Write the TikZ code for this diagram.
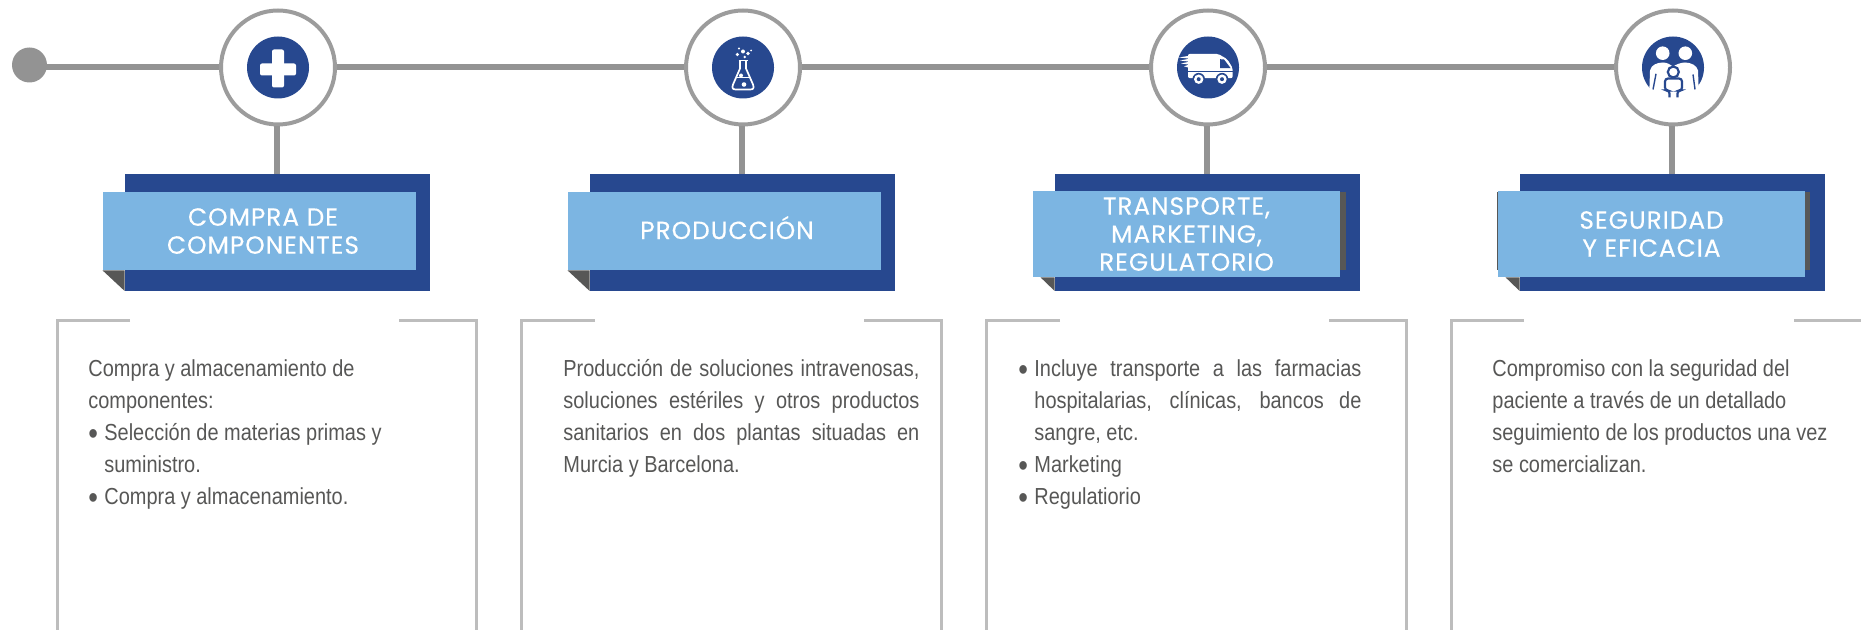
\documentclass[tikz,border=0pt]{standalone}
\usepackage{fontspec}
\usepackage{tikz}
\usetikzlibrary{positioning}
\setmainfont[FakeStretch=0.86]{Liberation Sans}
\newfontfamily\titlefont[LetterSpace=4,FakeBold=0.25]{Poppins}
\definecolor{railgray}{HTML}{939393}
\definecolor{ringgray}{HTML}{9C9C9C}
\definecolor{panelgray}{HTML}{BDBDBD}
\definecolor{foldgray}{HTML}{575756}
\definecolor{bandblue}{HTML}{27488F}
\definecolor{bandlight}{HTML}{7CB5E2}
\newcommand{\bul}{\makebox[8pt][l]{\raisebox{-2pt}{\fontsize{16}{16}\selectfont\textbullet}}}
\newcommand{\jline}[2]{\makebox[#1][s]{#2}}

\begin{document}
\begin{tikzpicture}[x=0.5pt, y=-0.5pt, node distance=232.5pt, on grid,
    startdot/.style={circle, fill=railgray, minimum size=17.5pt, inner sep=0pt},
    stepring/.style={circle, draw=ringgray, line width=2pt, fill=white, minimum size=57pt, inner sep=0pt},
    stepdisc/.style={circle, fill=bandblue, minimum size=31pt, inner sep=0pt},
    bandback/.style={fill=bandblue, minimum width=152.5pt, minimum height=58.25pt, inner sep=0pt, xshift=-0.25pt},
    bandfront/.style={fill=bandlight, anchor=north west, inner sep=0pt, align=center, text=white,
      font=\titlefont\fontsize{12.4}{14}\selectfont},
    rail/.style={draw=railgray, line width=3pt},
    panel/.style={draw=panelgray, line width=1.5pt},
    bodytext/.style={anchor=north west, inner sep=0pt, align=left, text=foldgray,
      font=\fontsize{11.6}{16}\selectfont},
    fold/.style={fill=foldgray},
    icon/.style={fill=white},
    iconline/.style={draw=white, line width=0.85pt}]
    \useasboundingbox (0,0) rectangle (1861,630);

    \node[startdot] (start) at (29.5,65) {};
    \node[stepring] (step1) at (278,67.5) {};
    \node[stepring, right=of step1] (step2) {};
    \node[stepring, right=of step2] (step3) {};
    \node[stepring, right=of step3] (step4) {};
    \node[stepdisc] (disc1) at (step1) {};
    \node[stepdisc] (disc2) at (step2) {};
    \node[stepdisc] (disc3) at (step3) {};
    \node[stepdisc] (disc4) at (step4) {};

    \draw[rail] (step1 -| start) -- (step1);
    \draw[rail] (step1) -- (step2);
    \draw[rail] (step2) -- (step3);
    \draw[rail] (step3) -- (step4);

    \node[bandback, below=82.4pt of step1] (back1) {};
    \node[bandback, below=82.4pt of step2] (back2) {};
    \node[bandback, below=82.4pt of step3] (back3) {};
    \node[bandback, below=82.4pt of step4] (back4) {};
    \draw[rail] ([xshift=-0.75pt]step1.south) -- ([xshift=-0.75pt]step1.south |- back1.north);
    \draw[rail] ([xshift=-0.5pt]step2.south) -- ([xshift=-0.5pt]step2.south |- back2.north);
    \draw[rail] ([xshift=-0.5pt]step3.south) -- ([xshift=-0.5pt]step3.south |- back3.north);
    \draw[rail] ([xshift=-0.5pt]step4.south) -- ([xshift=-0.5pt]step4.south |- back4.north);

    \fill[fold] ([shift={(-14,18)}]back3.north east) rectangle ++(-6,78);
    \fill[fold] ([shift={(-15,18)}]back4.north east) rectangle ++(-6,78);
    \fill[fold] ([shift={(-23,18)}]back4.north west) rectangle ++(1.5,78);

    \node[bandfront, minimum width=156.5pt, minimum height=39pt] (band1) at ([shift={(-22,18)}]back1.north west) {\hspace*{3.5pt}COMPRA DE\\\hspace*{3.5pt}COMPONENTES};
    \node[bandfront, minimum width=156.5pt, minimum height=39pt] (band2) at ([shift={(-22,18)}]back2.north west) {\hspace*{2.5pt}\raisebox{3.5pt}{PRODUCCIÓN}};
    \node[bandfront, minimum width=153.5pt, minimum height=43pt] (band3) at ([shift={(-22,17)}]back3.north west) {TRANSPORTE,\\MARKETING,\\REGULATORIO};
    \node[bandfront, minimum width=153.5pt, minimum height=43pt] (band4) at ([shift={(-22,17)}]back4.north west) {SEGURIDAD\\Y EFICACIA};

    \fill[fold] (band1.south west) -- (back1.south west) -- (back1.west |- band1.south) -- cycle;
    \fill[fold] (band2.south west) -- (back2.south west) -- (back2.west |- band2.south) -- cycle;
    \fill[fold] ([xshift=4pt]band3.south west) -- (back3.south west) -- (back3.west |- band3.south) -- cycle;
    \fill[fold] ([xshift=4pt]band4.south west) -- (back4.south west) -- (back4.west |- band4.south) -- cycle;

    \draw[panel] (130,321) -| (57,634);
    \draw[panel] (399,321) -| (476,634);
    \draw[panel] (595,321) -| (521,634);
    \draw[panel] (864,321) -| (941,634);
    \draw[panel] (1060,321) -| (986,634);
    \draw[panel] (1329,321) -| (1406,634);
    \draw[panel] (1524,321) -| (1451,634);
    \draw[panel] (1794,321) -- (1865,321);

    \node[bodytext] (text1) at (88,359) {Compra y almacenamiento de\\componentes:\\\bul Selección de materias primas y\\\hspace*{8pt}suministro.\\\bul Compra y almacenamiento.};
    \node[bodytext] (text2) at (563,359) {\jline{178pt}{Producción de soluciones intravenosas,}\\\jline{178pt}{soluciones estériles y otros productos}\\\jline{178pt}{sanitarios en dos plantas situadas en}\\Murcia y Barcelona.};
    \node[bodytext] (text3) at (1018,359) {\bul\jline{163.5pt}{Incluye transporte a las farmacias}\\\hspace*{8pt}\jline{163.5pt}{hospitalarias, clínicas, bancos de}\\\hspace*{8pt}sangre, etc.\\\bul Marketing\\\bul Regulatiorio};
    \node[bodytext] (text4) at (1492,359) {Compromiso con la seguridad del\\paciente a través de un detallado\\seguimiento de los productos una vez\\se comercializan.};

    \begin{scope}[shift={(disc1)}]
      \fill[icon, rounded corners=1pt] (-6,-18) rectangle (6,20);
      \fill[icon, rounded corners=1pt] (-18,-4) rectangle (18,8);
    \end{scope}

    \begin{scope}[shift={(disc2)}]
      \draw[iconline, line join=round] (-3,-7) -- (-3,1) -- (-10,17) .. controls (-11.5,21) and (-10,22) .. (-7,22) -- (7,22) .. controls (10,22) and (11.5,21) .. (10,17) -- (3,1) -- (3,-7);
      \draw[iconline] (-4.5,-7) -- (4.5,-7);
      \draw[iconline] (-6.5,10) -- (6.5,10);
      \fill[icon] (-4,-19) circle (1.2) (-5.7,-13) circle (1.8) (0,-16) circle (2) (5,-14) circle (1.8) (8,-17) circle (1) (1.7,-10.5) circle (1.3);
      \fill[icon] (-2,8) circle (2) (1,17) circle (2.3);
    \end{scope}

    \begin{scope}[shift={(disc3)}]
      \fill[icon, rounded corners=1pt] (-20,-13.7) -- (10,-13.7) -- (19.3,-8.3) -- (24.7,0.7) -- (24.7,10.7) -- (-20,10.7) -- cycle;
      \fill[bandblue] (12,-8.3) -- (16,-8) -- (22.7,0.7) -- (12,0.7) -- cycle;
      \draw[bandblue, line width=0.4pt] (-20,4) -- (24.7,4);
      \fill[icon] (-20,-11.5) -- (-29,-10) -- (-20,-9) -- cycle (-20,-8.5) -- (-28,-7) -- (-20,-6) -- cycle (-20,-5.5) -- (-27,-4) -- (-20,-3) -- cycle (-20,-2.5) -- (-24,-1.2) -- (-20,0) -- cycle;
      \fill[bandblue] (-9.3,11.7) circle (6.3) (14,11.7) circle (6.3);
      \fill[icon] (-9.3,11.7) circle (4.7) (14,11.7) circle (4.7);
      \fill[bandblue] (-9.3,11.7) circle (2) (14,11.7) circle (2);
    \end{scope}

    \begin{scope}[shift={(disc4)}]
      \fill[icon] (-10.3,-14.3) circle (6.8) (12.3,-14.3) circle (6.8);
      \fill[icon] (-24,32) -- (-23,3) .. controls (-22,-3) and (-15,-5) .. (-10,-5) .. controls (-6,-5) and (-3,-3) .. (0,-1) .. controls (3,-3) and (8,-5) .. (12,-5) .. controls (18,-5) and (24,-2) .. (25,3) -- (26,32) -- cycle;
      \draw[bandblue, line width=0.7pt] (-17,6.3) -- (-20,22);
      \draw[bandblue, line width=0.7pt] (20,7) -- (22,22);
      \draw[bandblue, line width=1.1pt, rounded corners=1.5pt] (-3.5,30) -- (-3.5,23) -- (-8,23) -- (-8,11) -- (9,11) -- (9,23) -- (4.5,23) -- (4.5,30);
      \draw[bandblue, line width=1.1pt, fill=white] (0.3,4.5) circle (5.5);
    \end{scope}
  \end{tikzpicture}
\end{document}
